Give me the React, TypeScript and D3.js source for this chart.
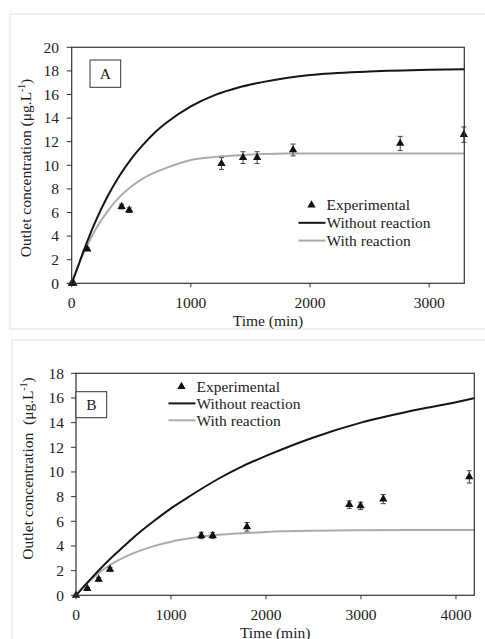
import React from "react";
import * as d3 from "d3";

// ---------- Panel A data ----------
const timeTicksA = [0, 1000, 2000, 3000];
const concTicksA = [0, 2, 4, 6, 8, 10, 12, 14, 16, 18, 20];
const expTimeA = [0, 15, 131, 419, 483, 1257, 1438, 1556, 1858, 2757, 3291];
const expConcA = [0, 0, 2.9, 6.5, 6.2, 10.15, 10.65, 10.65, 11.3, 11.85, 12.6];
const expErrA = [0, 0, 0.1, 0.2, 0.2, 0.5, 0.5, 0.5, 0.5, 0.6, 0.65];
const modelTimeA = [0, 50, 100, 150, 200, 300, 400, 500, 600, 700, 800, 1000, 1200, 1400, 1600, 1800, 2000, 2500, 3000, 3300];
const withoutA = [0, 1.35, 2.75, 4.05, 5.25, 7.35, 9.1, 10.55, 11.75, 12.8, 13.65, 15.0, 15.95, 16.6, 17.05, 17.4, 17.65, 17.95, 18.1, 18.15];
const withA = [0, 1.35, 2.55, 3.6, 4.55, 6.1, 7.3, 8.2, 8.9, 9.4, 9.8, 10.45, 10.7, 10.85, 10.95, 11.0, 11.0, 11.0, 11.0, 11.0];

// ---------- Panel B data ----------
const timeTicksB = [0, 1000, 2000, 3000, 4000];
const concTicksB = [0, 2, 4, 6, 8, 10, 12, 14, 16, 18];
const expTimeB = [0, 119, 239, 358, 1319, 1439, 1800, 2877, 2996, 3235, 4140];
const expConcB = [0, 0.55, 1.3, 2.1, 4.85, 4.85, 5.55, 7.35, 7.25, 7.8, 9.6];
const expErrB = [0, 0.1, 0.15, 0.15, 0.25, 0.25, 0.35, 0.3, 0.3, 0.37, 0.5];
const modelTimeB = [0, 100, 200, 300, 400, 500, 600, 800, 1000, 1200, 1500, 1750, 2000, 2500, 3000, 3500, 4000, 4200];
const withoutB = [0, 0.87, 1.7, 2.5, 3.25, 3.95, 4.65, 5.9, 7.05, 8.05, 9.45, 10.45, 11.3, 12.8, 14.0, 14.9, 15.65, 16.0];
const withB = [0, 0.84, 1.55, 2.15, 2.65, 3.05, 3.4, 3.95, 4.35, 4.62, 4.9, 5.03, 5.13, 5.23, 5.27, 5.29, 5.3, 5.3];

const legendLabels = ["Experimental", "Without reaction", "With reaction"];

const FONT = '"Liberation Serif", "DejaVu Serif", serif';
const FS = 15.5;
const AXIS = "#333";
const TXT = "#222";
const DARK = "#151515";
const GRAY = "#ababab";
const textStyle: React.CSSProperties = { fontFamily: FONT, fontSize: FS };

type PanelProps = {
  frame: { x: number; y: number; w: number; h: number };
  plot: { l: number; r: number; t: number; b: number };
  xMax: number;
  yMax: number;
  xTicks: number[];
  yTicks: number[];
  expT: number[];
  expC: number[];
  expE: number[];
  modelT: number[];
  without: number[];
  withR: number[];
  letter: string;
  box: { x: number; y: number; w: number; h: number };
  legend: { x: number; y: number; dy: number };
  yTitle: { x: number; y: number; gap: string };
  xTitleY: number;
  xTickLabelY: number;
  yTickLabelX: number;
};

function Panel(p: PanelProps) {
  const x = d3.scaleLinear().domain([0, p.xMax]).range([p.plot.l, p.plot.r]);
  const y = d3.scaleLinear().domain([0, p.yMax]).range([p.plot.b, p.plot.t]);
  const line = d3
    .line<number>()
    .x((_, i) => x(p.modelT[i]))
    .y((d) => y(d))
    .curve(d3.curveMonotoneX);
  const tri = d3.symbol().type(d3.symbolTriangle).size(30)() as string;
  const cap = 2.5;
  const xMid = (p.plot.l + p.plot.r) / 2;
  return (
    <g>
      <rect x={p.frame.x} y={p.frame.y} width={p.frame.w} height={p.frame.h} fill="#fff" stroke="#e2e2e2" strokeWidth={1} />
      <path d={line(p.withR) || ""} fill="none" stroke={GRAY} strokeWidth={2} />
      <path d={line(p.without) || ""} fill="none" stroke={DARK} strokeWidth={2} />
      {p.expT.map((t, i) => {
        const cx = x(t);
        const cy = y(p.expC[i]);
        const e = p.expE[i];
        return (
          <g key={i}>
            {e > 0 && (
              <g stroke="#444" strokeWidth={1}>
                <line x1={cx} x2={cx} y1={y(p.expC[i] - e)} y2={y(p.expC[i] + e)} />
                <line x1={cx - cap} x2={cx + cap} y1={y(p.expC[i] - e)} y2={y(p.expC[i] - e)} />
                <line x1={cx - cap} x2={cx + cap} y1={y(p.expC[i] + e)} y2={y(p.expC[i] + e)} />
              </g>
            )}
            <path d={tri} transform={`translate(${cx},${cy})`} fill="#111" />
          </g>
        );
      })}
      <rect x={p.plot.l} y={p.plot.t} width={p.plot.r - p.plot.l} height={p.plot.b - p.plot.t} fill="none" stroke={AXIS} strokeWidth={1.2} />
      {p.xTicks.map((t) => (
        <g key={t}>
          <line x1={x(t)} x2={x(t)} y1={p.plot.b} y2={p.plot.b + 4} stroke={AXIS} strokeWidth={1} />
          <text x={x(t)} y={p.xTickLabelY} textAnchor="middle" style={textStyle} fill={TXT}>
            {t}
          </text>
        </g>
      ))}
      {p.yTicks.map((v) => (
        <g key={v}>
          <line x1={p.plot.l - 5} x2={p.plot.l} y1={y(v)} y2={y(v)} stroke={AXIS} strokeWidth={1} />
          <text x={p.yTickLabelX} y={y(v)} dy="0.34em" textAnchor="end" style={textStyle} fill={TXT}>
            {v}
          </text>
        </g>
      ))}
      <text x={xMid} y={p.xTitleY} textAnchor="middle" style={textStyle} fill={TXT}>
        Time (min)
      </text>
      <text
        transform={`translate(${p.yTitle.x},${p.yTitle.y}) rotate(-90)`}
        textAnchor="middle"
        style={{ ...textStyle, whiteSpace: "pre" }}
        fill={TXT}
      >
        {"Outlet concentration" + p.yTitle.gap + "(μg.L"}
        <tspan style={{ fontSize: FS * 0.62 }} dy={-6}>-1</tspan>
        <tspan dy={6}>)</tspan>
      </text>
      <rect x={p.box.x} y={p.box.y} width={p.box.w} height={p.box.h} fill="#fff" stroke={AXIS} strokeWidth={1} />
      <text x={p.box.x + p.box.w / 2} y={p.box.y + p.box.h / 2} dy="0.35em" textAnchor="middle" style={textStyle} fill={TXT}>
        {p.letter}
      </text>
      <g>
        <path d={tri} transform={`translate(${p.legend.x - 15},${p.legend.y})`} fill="#111" />
        <line x1={p.legend.x - 28} x2={p.legend.x - 1} y1={p.legend.y + p.legend.dy} y2={p.legend.y + p.legend.dy} stroke={DARK} strokeWidth={2} />
        <line x1={p.legend.x - 28} x2={p.legend.x - 1} y1={p.legend.y + 2 * p.legend.dy} y2={p.legend.y + 2 * p.legend.dy} stroke={GRAY} strokeWidth={2} />
        {legendLabels.map((s, i) => (
          <text key={s} x={p.legend.x} y={p.legend.y + i * p.legend.dy} dy="0.34em" style={textStyle} fill={TXT}>
            {s}
          </text>
        ))}
      </g>
    </g>
  );
}

export default function App() {
  return (
    <svg width={485} height={639} style={{ position: "absolute", left: 0, top: 0, background: "#fff" }}>
      <Panel
        frame={{ x: 10, y: 14, w: 490, h: 315 }}
        plot={{ l: 71.7, r: 464.3, t: 47.3, b: 283.3 }}
        xMax={3295}
        yMax={20}
        xTicks={timeTicksA}
        yTicks={concTicksA}
        expT={expTimeA}
        expC={expConcA}
        expE={expErrA}
        modelT={modelTimeA}
        without={withoutA}
        withR={withA}
        letter="A"
        box={{ x: 90, y: 60, w: 30.7, h: 27.3 }}
        legend={{ x: 326.5, y: 205, dy: 17.8 }}
        yTitle={{ x: 31, y: 168, gap: " " }}
        xTitleY={325.5}
        xTickLabelY={308}
        yTickLabelX={59}
      />
      <Panel
        frame={{ x: 12, y: 340, w: 490, h: 310 }}
        plot={{ l: 76, r: 474.3, t: 373.3, b: 595.3 }}
        xMax={4193}
        yMax={18}
        xTicks={timeTicksB}
        yTicks={concTicksB}
        expT={expTimeB}
        expC={expConcB}
        expE={expErrB}
        modelT={modelTimeB}
        without={withoutB}
        withR={withB}
        letter="B"
        box={{ x: 76, y: 391.7, w: 30.7, h: 26 }}
        legend={{ x: 196.5, y: 386.5, dy: 16.9 }}
        yTitle={{ x: 33, y: 468.5, gap: "  " }}
        xTitleY={637.5}
        xTickLabelY={619.5}
        yTickLabelX={64}
      />
    </svg>
  );
}
